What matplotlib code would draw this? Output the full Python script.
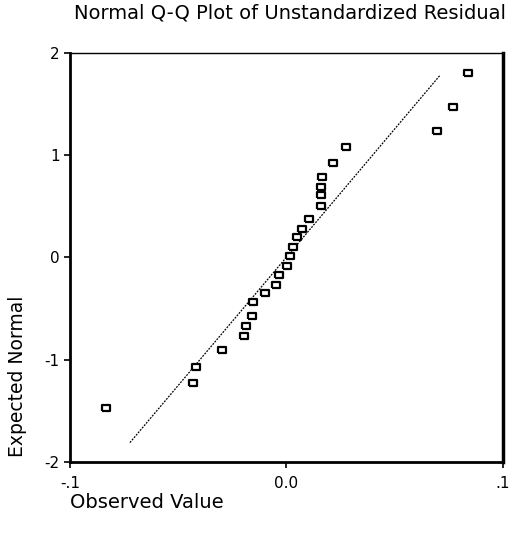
import matplotlib
matplotlib.use("Agg")
import matplotlib.pyplot as plt
import numpy as np

# observed residuals and expected normal values
observed = [-0.0834, -0.0430, -0.0419, -0.0298, -0.0198, -0.0188, -0.0161,
            -0.0153, -0.0099, -0.0050, -0.0033, 0.0002, 0.0016, 0.0030,
            0.0048, 0.0072, 0.0104, 0.0159, 0.0159, 0.0159, 0.0164, 0.0215,
            0.0275, 0.0694, 0.0768, 0.0840]
expected = [-1.47, -1.23, -1.07, -0.90, -0.77, -0.67, -0.57, -0.44, -0.35,
            -0.27, -0.17, -0.08, 0.01, 0.10, 0.20, 0.28, 0.38, 0.50, 0.61,
            0.69, 0.79, 0.92, 1.08, 1.24, 1.47, 1.80]

# reference line endpoints
ref_x = [-0.0723, 0.0709]
ref_y = [-1.81, 1.78]

x_ticks = [-0.1, 0.0, 0.1]
x_ticklabels = ['-.1', '0.0', '.1']
y_ticks = [-2, -1, 0, 1, 2]
y_ticklabels = ['-2', '-1', '0', '1', '2']

plt.rcParams['font.family'] = ['DejaVu Sans']

fig = plt.figure(figsize=(5.11, 5.33), dpi=100)
ax = fig.add_axes([0.137, 0.1332, 0.847, 0.7674])

ax.plot(ref_x, ref_y, color='black', linestyle=(0, (1.5, 1)), linewidth=0.9)

box = [(-1.2, -1), (1.2, -1), (1.2, 1), (-1.2, 1), (-1.2, -1)]
ax.plot(observed, expected, linestyle='none', marker=box, markersize=5.5,
        markerfacecolor='white', markeredgecolor='black', markeredgewidth=1.6)

ax.set_xlim(-0.1, 0.1)
ax.set_ylim(-2, 2)
ax.set_xticks(x_ticks)
ax.set_xticklabels(x_ticklabels)
ax.set_yticks(y_ticks)
ax.set_yticklabels(y_ticklabels)
ax.tick_params(axis='both', labelsize=11, length=4, width=1.2, colors='black')
ax.tick_params(axis='x', pad=6)

ax.spines['left'].set_linewidth(2)
ax.spines['bottom'].set_linewidth(2)
ax.spines['right'].set_linewidth(2.5)
ax.spines['top'].set_linewidth(1)

fig.text(0.567, 0.976, 'Normal Q-Q Plot of Unstandardized Residual',
         ha='center', va='center', fontsize=14)
fig.text(0.137, 0.0563, 'Observed Value', ha='left', va='center', fontsize=14)
fig.text(0.035, 0.2946, 'Expected Normal', ha='center', va='center',
         rotation=90, fontsize=13.5)

fig.savefig('out.png', dpi=100)
